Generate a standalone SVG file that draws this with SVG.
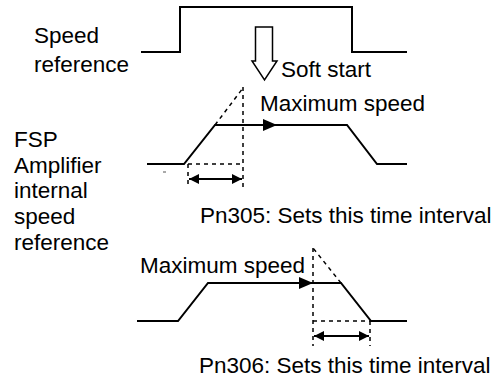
<svg xmlns="http://www.w3.org/2000/svg" width="499" height="379" viewBox="0 0 499 379">
<defs>
<style>
.t{font-family:"Liberation Sans",Arial,sans-serif;font-size:22.5px;fill:#000}
.w{fill:none;stroke:#000;stroke-width:2;stroke-linejoin:miter}
.d{fill:none;stroke:#000;stroke-width:1.5;stroke-dasharray:4 4}
.a{fill:none;stroke:#000;stroke-width:1.8}
</style>
<marker id="ah" viewBox="0 0 10 10" refX="10" refY="5" markerWidth="10" markerHeight="10" markerUnits="userSpaceOnUse" orient="auto-start-reverse">
<path d="M0,0 L10,5 L0,10 Z" fill="#000"/>
</marker>
</defs>
<rect width="499" height="379" fill="#fff"/>
<g id="labels">
<text class="t" x="34" y="43">Speed</text>
<text class="t" x="34" y="72">reference</text>
<text class="t" x="14" y="147">FSP</text>
<text class="t" x="14" y="173">Amplifier</text>
<text class="t" x="14" y="198">internal</text>
<text class="t" x="14" y="224">speed</text>
<text class="t" x="14" y="250">reference</text>
<text class="t" x="281" y="77">Soft start</text>
<text class="t" x="260" y="111">Maximum speed</text>
<text class="t" x="200" y="223">Pn305: Sets this time interval</text>
<text class="t" x="140" y="273">Maximum speed</text>
<text class="t" x="199" y="373">Pn306: Sets this time interval</text>
</g>
<g id="speed-reference">
<polyline class="w" points="141,52 180,52 180,7 352,7 352,52 407,52"/>
</g>
<g id="soft-start-arrow">
<path d="M255.5,27 L272.5,27 L272.5,61 L277,61 L264.5,80 L252,61 L255.5,61 Z" fill="#fff" stroke="#000" stroke-width="1.5"/>
</g>
<g id="accel-profile">
<polyline class="w" points="147,164 184,164 215,125 347,125 377,164 407,164"/>
<line class="d" x1="215" y1="125" x2="243" y2="88"/>
<line class="d" x1="243" y1="87" x2="243" y2="187"/>
<line class="d" x1="188" y1="164" x2="243" y2="164"/>
<line class="d" x1="188" y1="164" x2="188" y2="185"/>
<path d="M263,119 L277,125 L263,131 Z" fill="#000"/>
<line x1="163" y1="172" x2="166" y2="172" stroke="#555" stroke-width="1"/>
</g>
<g id="decel-profile">
<polyline class="w" points="137,321 178,321 208,283 341,283 371,321 407,321"/>
<line class="d" x1="341" y1="283" x2="313" y2="248"/>
<line class="d" x1="313" y1="248" x2="313" y2="346"/>
<line class="d" x1="313" y1="321" x2="371" y2="321"/>
<line class="d" x1="370" y1="321" x2="370" y2="346"/>
<path d="M299,277 L313,283 L299,289 Z" fill="#000"/>
</g>
<g id="connectors">
<line class="a" x1="189" y1="179" x2="242" y2="179" marker-start="url(#ah)" marker-end="url(#ah)"/>
<line class="a" x1="314" y1="336" x2="369" y2="336" marker-start="url(#ah)" marker-end="url(#ah)"/>
</g>
</svg>
